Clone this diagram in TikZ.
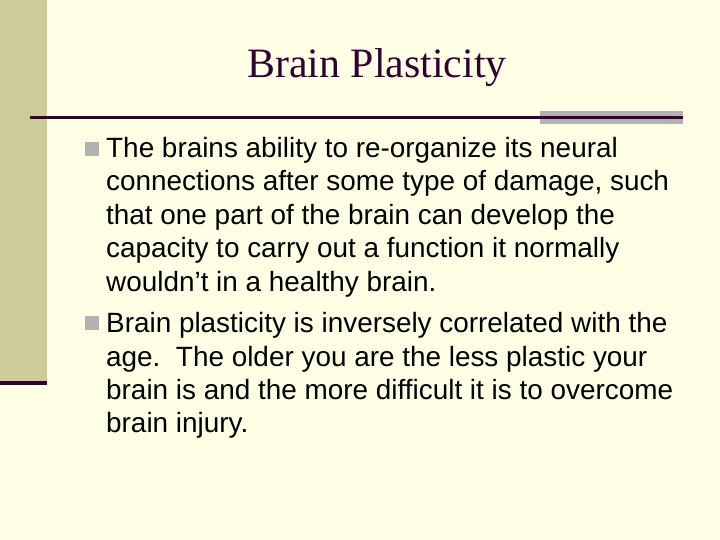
\documentclass[tikz,border=0pt]{standalone}
\usepackage{fontspec}
\setmainfont{Liberation Sans}
\newfontfamily\titlefont{Liberation Serif}
\definecolor{slidebg}{HTML}{FFFFE5}
\definecolor{sidebar}{HTML}{CCCC99}
\definecolor{darkplum}{HTML}{330033}
\definecolor{bargray}{HTML}{B2B2B2}
\tikzset{
  textline/.style={anchor=base west, inner sep=0pt, font=\fontsize{28}{32}\selectfont},
  bulletbox/.style={fill=bargray, minimum size=14bp, inner sep=0pt}
}
\begin{document}
\begin{tikzpicture}[x=1bp,y=-1bp]
    \useasboundingbox (0,0) rectangle (720,540);
    \fill[slidebg] (0,0) rectangle (720,540);
    % left strip
    \fill[sidebar] (0,0) rectangle (47,383);
    \fill[darkplum] (0,381) rectangle (47,385);
    % title and rules
    \node (title) [font=\titlefont\fontsize{42}{46}\selectfont, text=darkplum] at (377,68) {Brain Plasticity};
    \fill[bargray] (540,111) rectangle (683,124);
    \fill[darkplum] (30,116) rectangle (683,119);
    % first point
    \node (b1) [bulletbox] at (92,149) {};
    \node (l1) [textline] at (106,158) {The brains ability to re-organize its neural};
    \node (l2) [textline] at (106,191) {connections after some type of damage, such};
    \node (l3) [textline] at (106,225) {that one part of the brain can develop the};
    \node (l4) [textline] at (106,258) {capacity to carry out a function it normally};
    \node (l5) [textline] at (106,291) {wouldn’t in a healthy brain.};
    % second point
    \node (b2) [bulletbox] at (92,323) {};
    \node (m1) [textline] at (106,332) {Brain plasticity is inversely correlated with the};
    \node (m2) [textline] at (106,366) {age.\ \ The older you are the less plastic your};
    \node (m3) [textline] at (106,399) {brain is and the more difficult it is to overcome};
    \node (m4) [textline] at (106,432) {brain injury.};
\end{tikzpicture}
\end{document}
